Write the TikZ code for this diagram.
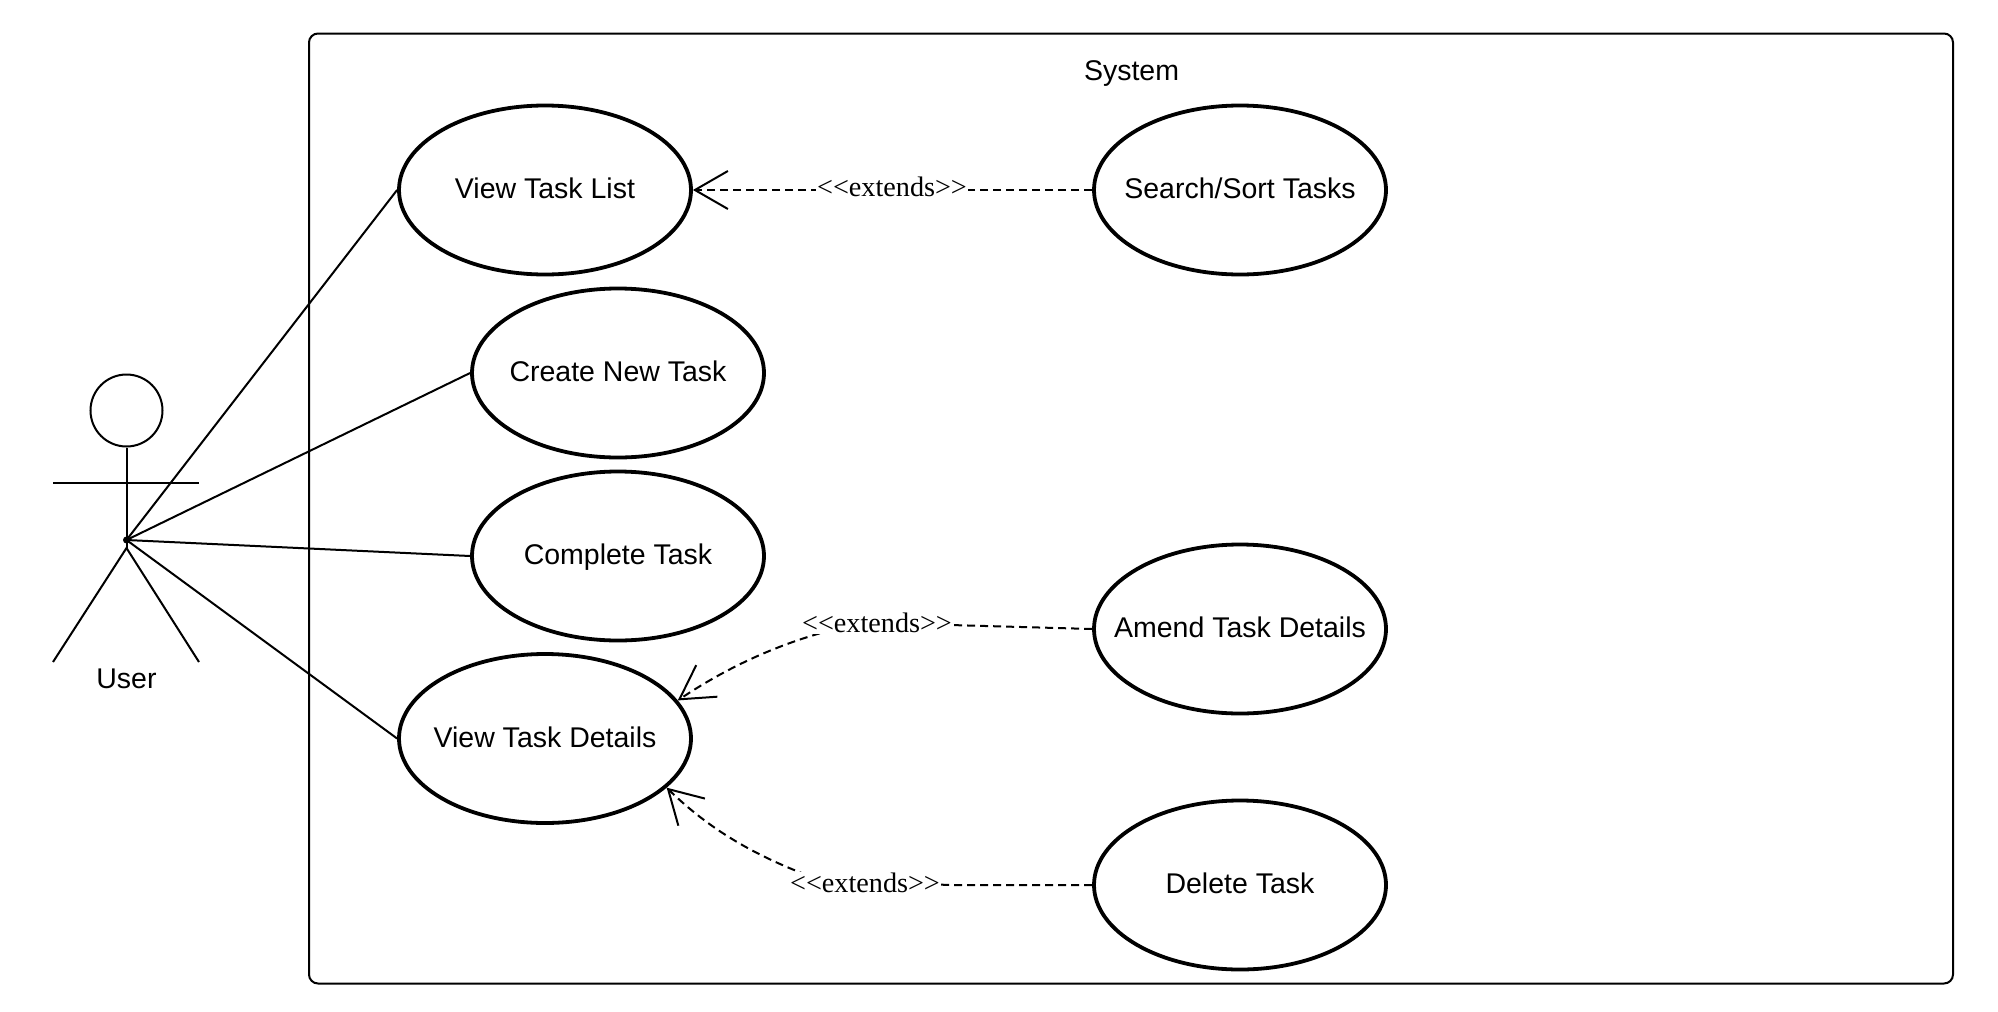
\documentclass[tikz,border=0pt]{standalone}
\usepackage{fontspec}
\setmainfont{Liberation Sans}
\newfontfamily\extendsfont{Liberation Serif}
\usetikzlibrary{arrows.meta,shapes.geometric}

\tikzset{
  plainlbl/.style={font=\fontsize{28.5}{34}\selectfont,inner sep=0pt,text height=20pt,text depth=2.4pt},
  usecase/.style={plainlbl,draw,ellipse,line width=3.8pt,minimum width=292pt,minimum height=169pt,inner xsep=-40pt},
  extendslbl/.style={font=\extendsfont\fontsize{28.2}{34}\selectfont,fill=white,inner sep=1pt},
  extendsline/.style={line width=2pt,dash pattern=on 8pt off 5pt,-{Straight Barb[length=33pt,width=38pt,line width=2pt,sep=0pt]}},
  assocline/.style={line width=2pt}
}

\begin{document}
\begin{tikzpicture}[x=1pt,y=-1pt,line width=2pt]
  \useasboundingbox (0,0) rectangle (1998,1012);

  % System boundary
  \node[draw,rounded corners=9pt,line width=2pt,minimum width=1644pt,minimum height=950pt] (system) at (1131,508.5) {};
  \node[plainlbl] (systemlbl) at (1131.5,71.5) {System};

  % Use cases
  \foreach \i/\x/\y/\lbl in {viewlist/545/190/View Task List, create/618/373/Create New Task, complete/618/556/Complete Task, details/545/738.5/View Task Details, search/1240/190/{Search/Sort Tasks}, amend/1240/629/Amend Task Details, delete/1240/885/Delete Task}{
    \node[usecase] (\i) at (\x,\y) {\lbl};
  }

  % Actor
  \node[draw,circle,line width=2pt,minimum size=72pt,inner sep=0pt] (head) at (126.5,410.5) {};
  \coordinate (hip) at (126.5,540);
  \coordinate (crotch) at (126.5,548);
  \coordinate (armL) at (53,483);
  \coordinate (armR) at (199,483);
  \coordinate (footL) at (53,662);
  \coordinate (footR) at (199,662);
  \draw (head.south) -- (crotch);
  \draw (armL) -- (armR);
  \draw (footL) -- (crotch) -- (footR);
  \fill (hip) circle (3.5pt);
  \node[plainlbl] (user) at (126.5,680) {User};

  % Associations
  \foreach \i in {viewlist,create,complete,details}{
    \draw[assocline] (hip) -- (\i.west);
  }

  % Extends
  \draw[extendsline] (search.west) -- (viewlist.east);
  \node[extendslbl] (extlist) at (892,187) {{<}{<}extends{>}{>}};

  \draw[extendsline] (amend.west) -- (950,625) -- (840,628) .. controls (790,640) and (735,662) .. (details.16);
  \node[extendslbl] (extamend) at (877,623) {{<}{<}extends{>}{>}};

  \draw[extendsline] (delete.west) -- (950,885) -- (820,880) .. controls (765,860) and (715,835) .. (details.-22);
  \node[extendslbl] (extdelete) at (865,883) {{<}{<}extends{>}{>}};
\end{tikzpicture}
\end{document}
